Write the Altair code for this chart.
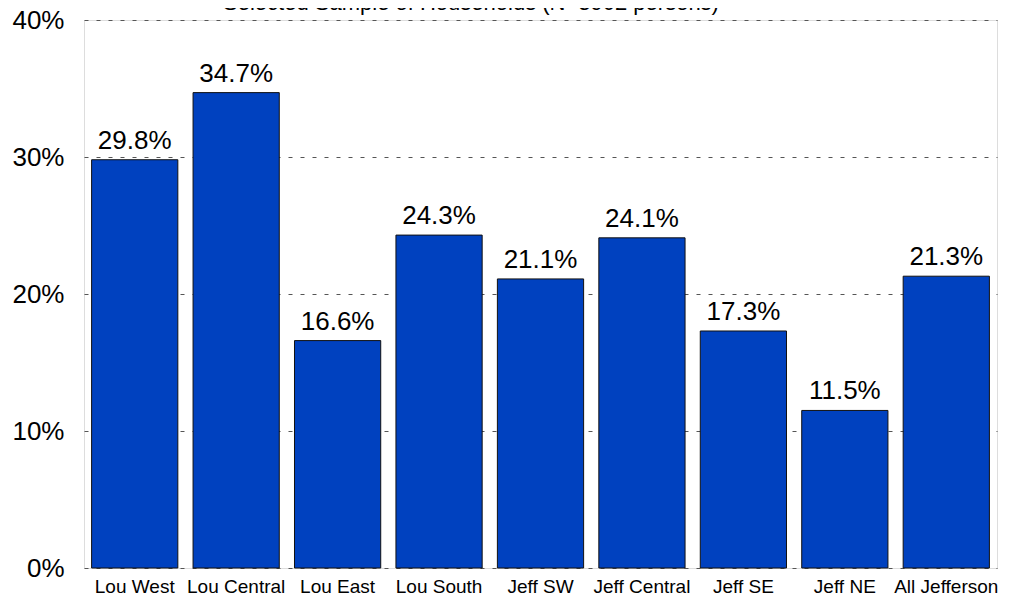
import altair as alt
import pandas as pd

categories = ["Lou West", "Lou Central", "Lou East", "Lou South", "Jeff SW",
              "Jeff Central", "Jeff SE", "Jeff NE", "All Jefferson"]
values = [0.298, 0.347, 0.166, 0.243, 0.211, 0.241, 0.173, 0.115, 0.213]
labels = ["29.8%", "34.7%", "16.6%", "24.3%", "21.1%", "24.1%", "17.3%", "11.5%", "21.3%"]
y_ticks = [0, 0.1, 0.2, 0.3, 0.4]
title_text = "Selected Sample of Households (N=3902 persons)"

df = pd.DataFrame({"cat": categories, "val": values, "lab": labels})

FONT = "Liberation Sans, Arial, Helvetica, sans-serif"

x = alt.X("cat:N", sort=categories,
          scale=alt.Scale(paddingInner=0.15, paddingOuter=0.075),
          axis=alt.Axis(title=None, labelAngle=0, labelFontSize=19, labelFont=FONT,
                        labelColor="black", labelPadding=9, ticks=False, domain=False,
                        labelOverlap=False, labelBaseline="top"))
y = alt.Y("val:Q", scale=alt.Scale(domain=[0, 0.4], nice=False),
          axis=alt.Axis(title=None, values=y_ticks, format=".0%", labelFontSize=26,
                        labelFont=FONT, labelColor="black", labelPadding=20, ticks=False,
                        domain=False, grid=True, gridDash=[4, 8], gridColor="#555555",
                        gridWidth=1))

base = alt.Chart(df)
bars = base.mark_bar(color="#0041BF", stroke="#111111", strokeWidth=1).encode(x=x, y=y)
text = base.mark_text(baseline="alphabetic", dy=-11, fontSize=26, font=FONT,
                      color="black").encode(x=alt.X("cat:N", sort=categories),
                                            y="val:Q", text="lab:N")
title = alt.Chart(pd.DataFrame({"t": [title_text]})).mark_text(
    baseline="alphabetic", fontSize=22, font=FONT, color="black", align="center"
).encode(x=alt.value(387), y=alt.value(-10), text="t:N")

chart = alt.layer(bars, text, title).properties(
    width=913, height=548,
    autosize=alt.AutoSizeParams(type="none"),
    padding={"left": 76, "top": 12, "right": 6, "bottom": 33},
).configure_view(stroke="black", strokeWidth=1.2).configure(background="white")

chart.save("out.html", embed_options={"renderer": "svg", "actions": False})
